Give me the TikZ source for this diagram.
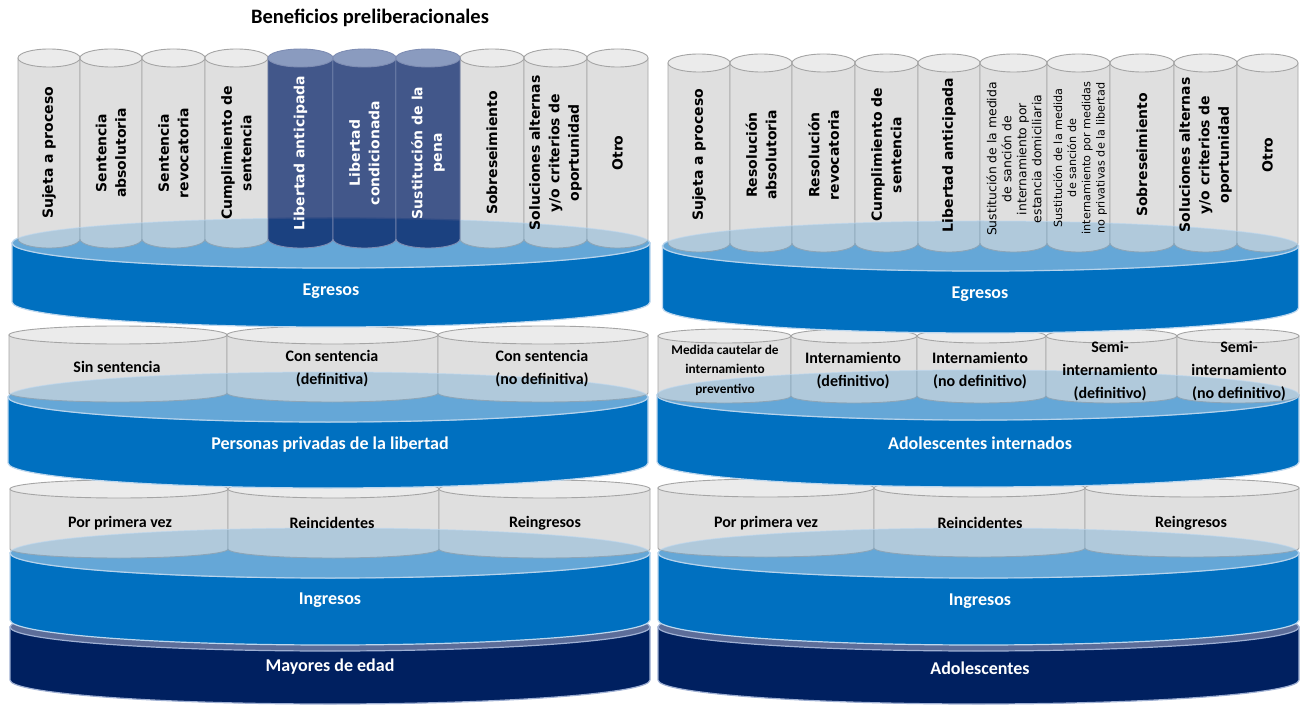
\documentclass[tikz,border=0pt]{standalone}
\usepackage{fontspec}
\setmainfont{Carlito}
\newfontfamily\dvsans{DejaVu Sans}
\definecolor{diskside}{HTML}{0070C0}
\definecolor{disktop}{HTML}{65A7D7}
\definecolor{diskrim}{HTML}{BDD7EE}
\definecolor{navyc}{HTML}{002060}
\definecolor{ringc}{HTML}{5C6D99}
\definecolor{ringrim}{HTML}{9FB0D3}
\definecolor{grbody}{HTML}{DFDFDF}
\definecolor{grtop}{HTML}{EBEBEB}
\definecolor{gredge}{HTML}{A5A5A5}
\definecolor{dkbody}{HTML}{031F63}
\definecolor{dktop}{HTML}{8A9BBF}
\definecolor{dkedge}{HTML}{7E8DB3}
\tikzset{
  vlab/.style={rotate=90, align=center, font=\dvsans\bfseries\fontsize{14}{19.5}\selectfont},
  vlabw/.style={vlab, text=white},
  seglab/.style={align=center, font=\bfseries\fontsize{16}{23}\selectfont},
  disklab/.style={text=white, font=\bfseries\fontsize{18}{21}\selectfont},
}
% #1 x1, #2 x2, #3 Ytop, #4 Ybot, #5 ry
\newcommand{\grcyl}[5]{%
  \pgfmathsetmacro{\myrx}{(#2-#1)/2}\pgfmathsetmacro{\mycx}{(#1+#2)/2}%
  \path[fill=grbody,draw=gredge,line width=0.9pt] (#1,#3) -- (#1,#4) arc[start angle=180,end angle=360,x radius=\myrx,y radius=#5] -- (#2,#3) -- cycle;
  \path[fill=grtop,draw=gredge,line width=0.9pt] (\mycx,#3) ellipse[x radius=\myrx,y radius=#5];
}
\newcommand{\dkcyl}[5]{%
  \pgfmathsetmacro{\myrx}{(#2-#1)/2}\pgfmathsetmacro{\mycx}{(#1+#2)/2}%
  \path[fill=dkbody,fill opacity=0.75,draw=dkedge,line width=0.9pt] (#1,#3) -- (#1,#4) arc[start angle=180,end angle=360,x radius=\myrx,y radius=#5] -- (#2,#3) -- cycle;
  \path[fill=dktop,draw=dkedge,line width=0.9pt] (\mycx,#3) ellipse[x radius=\myrx,y radius=#5];
}
% #1 cx, #2 rx, #3 Ytop, #4 Ybot, #5 ry, #6 side, #7 top, #8 rim
\newcommand{\diskshape}[8]{%
  \path[fill=#6,draw=#8,line width=1.2pt] (#1-#2,#3) -- (#1-#2,#4) arc[start angle=180,end angle=360,x radius=#2,y radius=#5] -- (#1+#2,#3) -- cycle;
  \path[fill=#7,draw=#8,line width=1.2pt] (#1,#3) ellipse[x radius=#2,y radius=#5];
}
% translucent top: #1 cx, #2 rx, #3 Ytop, #4 ry
\newcommand{\wash}[4]{%
  \path[fill=disktop,fill opacity=0.38,draw=diskrim,draw opacity=0.6,line width=1pt] (#1,#3) ellipse[x radius=#2,y radius=#4];
}
\begin{document}
\begin{tikzpicture}[x=1pt,y=1pt]
\useasboundingbox (0,0) rectangle (1300,705);
\fill[white] (0,0) rectangle (1300,705);

% ================= LEFT STACK =================
\diskshape{330}{320}{78}{25}{24}{navyc}{ringc}{ringrim}
\diskshape{330}{320}{152}{85}{25}{diskside}{disktop}{diskrim}
\grcyl{10}{228}{216}{156}{9}
\grcyl{228}{439}{216}{156}{9}
\grcyl{439}{650}{216}{156}{9}
\wash{330}{320}{152}{25}
\diskshape{328}{320}{308}{242}{25}{diskside}{disktop}{diskrim}
\grcyl{9}{227}{370}{312}{9}
\grcyl{227}{438}{370}{312}{9}
\grcyl{438}{648}{370}{312}{9}
\wash{328}{320}{308}{25}
\diskshape{331}{319}{462}{403}{25}{diskside}{disktop}{diskrim}
\grcyl{18}{80}{647}{466}{9}
\grcyl{80}{142}{647}{466}{9}
\grcyl{142}{205}{647}{466}{9}
\grcyl{205}{268}{647}{466}{9}
\grcyl{460}{524}{647}{466}{9}
\grcyl{524}{587}{647}{466}{9}
\grcyl{587}{648}{647}{466}{9}
\wash{331}{319}{462}{25}
\dkcyl{268}{333}{647}{466}{9}
\dkcyl{333}{396}{647}{466}{9}
\dkcyl{396}{460}{647}{466}{9}

% ================= RIGHT STACK =================
\diskshape{978.5}{320.5}{78}{25}{24}{navyc}{ringc}{ringrim}
\diskshape{978.5}{320.5}{152}{85}{25}{diskside}{disktop}{diskrim}
\grcyl{658}{874}{217}{157}{9}
\grcyl{874}{1085}{217}{157}{9}
\grcyl{1085}{1299}{217}{157}{9}
\wash{978.5}{320.5}{152}{25}
\diskshape{978}{321}{310}{243}{25}{diskside}{disktop}{diskrim}
\grcyl{658}{791}{369}{309}{7}
\grcyl{791}{917}{369}{309}{7}
\grcyl{917}{1046}{369}{309}{7}
\grcyl{1046}{1177}{369}{309}{7}
\grcyl{1177}{1299}{369}{309}{7}
\wash{978}{321}{310}{25}
\diskshape{980.5}{318}{459}{397}{25}{diskside}{disktop}{diskrim}
\grcyl{668}{730}{642}{462}{9}
\grcyl{730}{792}{642}{462}{9}
\grcyl{792}{855}{642}{462}{9}
\grcyl{855}{918}{642}{462}{9}
\grcyl{918}{980}{642}{462}{9}
\grcyl{980}{1047}{642}{462}{9}
\grcyl{1047}{1110}{642}{462}{9}
\grcyl{1110}{1174}{642}{462}{9}
\grcyl{1174}{1237}{642}{462}{9}
\grcyl{1237}{1298}{642}{462}{9}
\wash{980.5}{318}{459}{25}

% ================= TEXTS =================
\node[font=\bfseries\fontsize{20.5}{24}\selectfont] (title) at (370,687) {Beneficios preliberacionales};

% left cylinders
\node[vlab] (l1) at (49,552) {Sujeta a proceso};
\node[vlab] (l2) at (111,552) {Sentencia\\absolutoria};
\node[vlab] (l3) at (173.5,552) {Sentencia\\revocatoria};
\node[vlab] (l4) at (236.5,552) {Cumplimiento de\\sentencia};
\node[vlabw] (l5) at (300.5,552) {Libertad anticipada};
\node[vlabw] (l6) at (364.5,552) {Libertad\\condicionada};
\node[vlabw] (l7) at (428,552) {Sustitución de la\\pena};
\node[vlab] (l8) at (492,552) {Sobreseimiento};
\node[vlab] (l9) at (555.5,552) {Soluciones alternas\\y/o criterios de\\oportunidad};
\node[vlab] (l10) at (617.5,552) {Otro};

% right cylinders
\node[vlab] (r1) at (699,550) {Sujeta a proceso};
\node[vlab] (r2) at (761,550) {Resolución\\absolutoria};
\node[vlab] (r3) at (823.5,550) {Resolución\\revocatoria};
\node[vlab] (r4) at (886.5,550) {Cumplimiento de\\sentencia};
\node[vlab] (r5) at (949,550) {Libertad anticipada};
\node[vlab, font=\dvsans\fontsize{12.4}{15}\selectfont] (r6) at (1014,546) {Sustitución de la medida\\de sanción de\\internamiento por\\estancia domiciliaria};
\node[vlab, font=\dvsans\fontsize{11.2}{14.2}\selectfont] (r7) at (1080,547) {Sustitución de la medida\\de sanción de\\internamiento por medidas\\no privativas de la libertad};
\node[vlab] (r8) at (1142,550) {Sobreseimiento};
\node[vlab] (r9) at (1205.5,550) {Soluciones alternas\\y/o criterios de\\oportunidad};
\node[vlab] (r10) at (1267.5,550) {Otro};

% disk labels
\node[disklab] (egl) at (331,414) {Egresos};
\node[disklab] (egr) at (980,411) {Egresos};
\node[disklab] (ppl) at (330,260) {Personas privadas de la libertad};
\node[disklab] (air) at (980,262) {Adolescentes internados};
\node[disklab] (ingl) at (330,105) {Ingresos};
\node[disklab] (ingr) at (980,104) {Ingresos};
\node[disklab] (may) at (330,38) {Mayores de edad};
\node[disklab] (ado) at (980,37) {Adolescentes};

% left segments
\node[seglab] (lp1) at (117,338) {Sin sentencia};
\node[seglab] (lp2) at (332,336.5) {Con sentencia\\(definitiva)};
\node[seglab] (lp3) at (542,336.5) {Con sentencia\\(no definitiva)};
\node[seglab] (li1) at (120,182) {Por primera vez};
\node[seglab] (li2) at (332,182) {Reincidentes};
\node[seglab] (li3) at (545,182) {Reingresos};

% right segments
\node[seglab, font=\bfseries\fontsize{13.3}{19.5}\selectfont] (rp1) at (725,335) {Medida cautelar de\\internamiento\\preventivo};
\node[seglab] (rp2) at (853,334.5) {Internamiento\\(definitivo)};
\node[seglab] (rp3) at (980,334.5) {Internamiento\\(no definitivo)};
\node[seglab] (rp4) at (1110,334) {Semi-\\internamiento\\(definitivo)};
\node[seglab] (rp5) at (1239,334) {Semi-\\internamiento\\(no definitivo)};
\node[seglab] (ri1) at (766,182) {Por primera vez};
\node[seglab] (ri2) at (980,182) {Reincidentes};
\node[seglab] (ri3) at (1191,182) {Reingresos};
\end{tikzpicture}
\end{document}
